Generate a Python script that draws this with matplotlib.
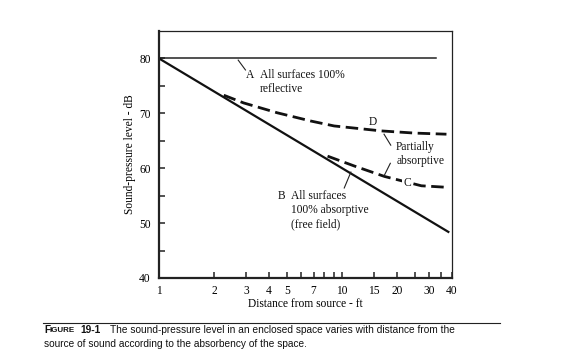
import matplotlib
matplotlib.use("Agg")
import matplotlib.pyplot as plt

# curve A: all surfaces reflective, B: free field, C/D: partially absorptive
dist_a = [1, 32.8]
spl_a = [80, 80]
dist_b = [1, 38.2]
spl_b = [80, 48.4]
dist_c = [8.35, 11.7, 17.1, 27.2, 38.5]
spl_c = [62.2, 60.4, 58.5, 56.8, 56.5]
dist_d = [2.26, 2.90, 4.43, 6.76, 9.07, 16.4, 25.0, 37.3]
spl_d = [73.3, 71.9, 70.1, 68.6, 67.7, 66.8, 66.4, 66.2]

xticks_major = [1, 2, 3, 4, 5, 7, 10, 15, 20, 30, 40]
xticks_minor = [6, 8, 9, 25, 35]
yticks_major = [40, 50, 60, 70, 80]
yticks_minor = [45, 55, 65, 75]

serif = "Liberation Serif"
sans = "Liberation Sans"

fig = plt.figure(figsize=(5.67, 3.58), dpi=100)
ax = fig.add_axes([159 / 567, 1 - 278 / 358, 293 / 567, 247 / 358])

ax.plot(dist_a, spl_a, color="#222222", lw=1.1)
ax.plot(dist_b, spl_b, color="#111111", lw=1.6)
ax.plot(dist_d, spl_d, color="#111111", lw=2.0, ls=(0, (4.5, 2)))
ax.plot(dist_c, spl_c, color="#111111", lw=2.0, ls=(0, (4.5, 2)))

ax.set_xscale("log")
ax.set_xlim(1, 40)
ax.set_ylim(40, 85)
ax.set_xticks(xticks_major)
ax.set_xticklabels([str(v) for v in xticks_major])
ax.set_xticks(xticks_minor, minor=True)
ax.set_xticklabels([], minor=True)
ax.set_yticks(yticks_major)
ax.set_yticks(yticks_minor, minor=True)

ax.tick_params(which="both", direction="in", length=4.5, width=1.1,
               color="#222222", top=False, right=False)
ax.tick_params(axis="x", which="major", pad=5)
ax.tick_params(axis="y", which="major", pad=6)
for lab in ax.get_xticklabels() + ax.get_yticklabels():
    lab.set_fontfamily(serif)
    lab.set_fontsize(8.3)

ax.spines["left"].set_linewidth(1.6)
ax.spines["bottom"].set_linewidth(1.6)
ax.spines["top"].set_linewidth(0.9)
ax.spines["right"].set_linewidth(0.9)
for s in ax.spines.values():
    s.set_color("#222222")

ax.set_xlabel("Distance from source - ft", fontfamily=serif, fontsize=8.3, labelpad=1)
ax.set_ylabel("Sound-pressure level - dB", fontfamily=serif, fontsize=8.3, labelpad=2)

txt = dict(fontfamily=serif, fontsize=8.3, color="#111111")
lead = dict(color="#222222", lw=0.8)

# A label
ax.plot([2.71, 2.97], [79.7, 77.9], **lead)
ax.text(2.99, 78.0, "A", va="top", **txt)
ax.text(3.56, 78.0, "All surfaces 100%\nreflective", va="top", linespacing=1.22, **txt)

# D label and partially absorptive
ax.text(14.8, 68.5, "D", va="center", ha="center", **txt)
ax.plot([17.0, 18.5], [66.2, 64.2], **lead)
ax.plot([17.0, 18.4], [58.6, 60.9], **lead)
ax.text(19.8, 65.0, "Partially\nabsorptive", va="top", linespacing=1.22, **txt)

# C label
ax.text(22.7, 57.3, "C", va="center", ha="center",
        bbox=dict(facecolor="white", edgecolor="none", pad=0.5), **txt)

# B label
ax.plot([11.2, 10.3], [59.3, 56.4], **lead)
ax.text(4.45, 56.0, "B", va="top", **txt)
ax.text(5.25, 56.0, "All surfaces\n100% absorptive\n(free field)", va="top",
        linespacing=1.25, **txt)

# caption
fig.add_artist(plt.Line2D([43 / 567, 500 / 567], [1 - 323 / 358, 1 - 323 / 358],
                          color="#222222", lw=0.8))
cap = dict(fontfamily=sans, color="#111111", va="center")
fig.text(44 / 567, 1 - 330 / 358, "F", fontsize=7.3, fontweight="bold", **cap)
fig.text(49.5 / 567, 1 - 330.5 / 358, "IGURE", fontsize=5.8, fontweight="bold", **cap)
fig.text(80 / 567, 1 - 330 / 358, "19-1", fontsize=7.3, fontweight="bold", **cap)
fig.text(110 / 567, 1 - 330 / 358,
         "The sound-pressure level in an enclosed space varies with distance from the",
         fontsize=7.3, **cap)
fig.text(44 / 567, 1 - 344 / 358,
         "source of sound according to the absorbency of the space.", fontsize=7.3, **cap)

fig.savefig("out.png", dpi=100)
